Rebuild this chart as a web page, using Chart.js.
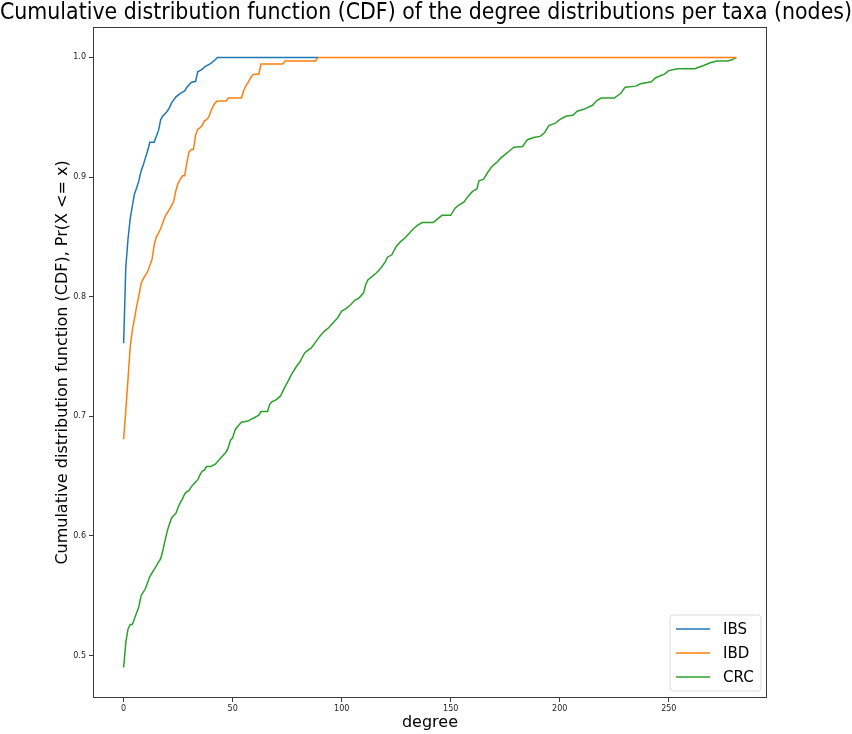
<!DOCTYPE html>
<html>
<head>
<meta charset="utf-8">
<script src="https://cdn.jsdelivr.net/npm/chart.js@4.4.1/dist/chart.umd.min.js"></script>
<style>
  html, body { margin: 0; padding: 0; background: #fff; }
  #wrap { width: 852px; height: 734px; }
</style>
</head>
<body>
<div id="wrap"><canvas id="c" width="852" height="734"></canvas></div>
<script>
const chartTitle = 'Cumulative distribution function (CDF) of the degree distributions per taxa (nodes)';
const xAxisLabel = 'degree';
const yAxisLabel = 'Cumulative distribution function (CDF), Pr(X <= x)';
const seriesNames = ['IBS', 'IBD', 'CRC'];
const xTickValues = [0, 50, 100, 150, 200, 250];
const yTickValues = [0.5, 0.6, 0.7, 0.8, 0.9, 1.0];

const degIBS = [0,1,2,3,4,5,6,7,8,9,10,11,12,14,15,16,17,18,20,21,22,24,26,28,29,31,33,34,36,37,39,40,42,43,89];
const cdfIBS = [0.761,0.825,0.848,0.865,0.876,0.886,0.891,0.897,0.905,0.910,0.916,0.922,0.929,0.929,0.934,0.939,0.948,0.951,0.955,0.958,0.962,0.967,0.970,0.972,0.975,0.979,0.980,0.988,0.990,0.992,0.994,0.995,0.998,1.0,1.0];

const degIBD = [0,1,2,3,4,5,6,7,8,9,10,11,12,13,14,15,16,17,18,19,20,21,22,23,24,25,26,27,28,29,30,31,32,33,34,35,36,37,38,39,40,41,42,43,47,48,54,55,56,57,58,59,60,62,63,73,74,88,89,281];
const cdfIBD = [0.681,0.705,0.731,0.758,0.772,0.782,0.792,0.801,0.811,0.815,0.818,0.821,0.826,0.831,0.843,0.850,0.853,0.857,0.862,0.867,0.870,0.873,0.876,0.880,0.889,0.895,0.898,0.901,0.901,0.912,0.921,0.923,0.923,0.935,0.940,0.941,0.943,0.947,0.948,0.950,0.955,0.959,0.962,0.9635,0.9635,0.966,0.966,0.972,0.976,0.979,0.982,0.985,0.986,0.986,0.9945,0.9945,0.997,0.997,1.0,1.0];

const degCRC = [0,1,2,3,4,5,6,7,8,9,10,11,12,13,14,15,16,17,18,19,20,21,22,23,24,25,26,27,28,29,30,31,32,33,34,35,36,37,38,40,42,44,46,47,48,49,50,51,52,53,54,57,58,60,61,62,63,66,67,68,70,72,73,75,77,79,81,83,85,86,88,90,92,94,96,98,100,102,104,106,108,110,111,112,114,116,118,120,121,123,125,127,129,131,133,135,137,142,144,146,150,152,154,156,158,160,162,163,165,167,169,171,173,175,177,179,183,185,188,191,193,195,198,200,203,206,208,211,215,217,219,225,228,230,235,237,242,244,248,250,254,262,264,266,269,272,277,279,281];
const cdfCRC = [0.490,0.511,0.522,0.526,0.526,0.531,0.536,0.541,0.550,0.553,0.556,0.561,0.566,0.569,0.572,0.575,0.578,0.581,0.588,0.596,0.604,0.610,0.615,0.617,0.619,0.624,0.628,0.631,0.635,0.637,0.638,0.641,0.643,0.645,0.647,0.651,0.654,0.655,0.658,0.658,0.660,0.664,0.668,0.670,0.674,0.680,0.682,0.688,0.691,0.693,0.695,0.696,0.697,0.699,0.700,0.701,0.704,0.704,0.710,0.712,0.714,0.717,0.721,0.728,0.735,0.741,0.746,0.753,0.756,0.757,0.762,0.767,0.771,0.774,0.778,0.782,0.788,0.790,0.793,0.797,0.799,0.803,0.810,0.814,0.817,0.820,0.824,0.829,0.833,0.835,0.842,0.846,0.849,0.853,0.857,0.860,0.862,0.862,0.865,0.868,0.868,0.874,0.877,0.879,0.884,0.888,0.890,0.897,0.898,0.904,0.909,0.912,0.916,0.919,0.922,0.925,0.9255,0.931,0.933,0.934,0.937,0.943,0.945,0.948,0.951,0.9516,0.955,0.9566,0.960,0.964,0.966,0.966,0.970,0.975,0.976,0.978,0.9796,0.983,0.986,0.989,0.9906,0.9906,0.992,0.9933,0.9955,0.997,0.997,0.998,1.0];

const colors = ['#1f77b4', '#ff7f0e', '#2ca02c'];
const FONT = "'DejaVu Sans', sans-serif";

function pts(xs, ys) { return xs.map((x, i) => ({ x: x, y: ys[i] })); }

const datasets = [[degIBS, cdfIBS], [degIBD, cdfIBD], [degCRC, cdfCRC]].map((d, i) => ({
  label: seriesNames[i],
  data: pts(d[0], d[1]),
  borderColor: colors[i],
  backgroundColor: colors[i],
  borderWidth: 1.5,
  pointRadius: 0,
  tension: 0,
  fill: false
}));

const framePlugin = {
  id: 'frameLegend',
  afterDraw(chart) {
    const ctx = chart.ctx;
    const a = chart.chartArea;
    ctx.save();
    ctx.strokeStyle = '#3a3a3a';
    ctx.lineWidth = 1;
    ctx.strokeRect(Math.round(a.left) + 0.5, Math.round(a.top) + 0.5, Math.round(a.right - a.left) - 1, Math.round(a.bottom - a.top) - 1);
    // legend box in lower right
    const bw = 91, bh = 76;
    const bx = a.right - 6 - bw, by = a.bottom - 7 - bh;
    const r = 3;
    ctx.beginPath();
    ctx.moveTo(bx + r, by);
    ctx.lineTo(bx + bw - r, by);
    ctx.arcTo(bx + bw, by, bx + bw, by + r, r);
    ctx.lineTo(bx + bw, by + bh - r);
    ctx.arcTo(bx + bw, by + bh, bx + bw - r, by + bh, r);
    ctx.lineTo(bx + r, by + bh);
    ctx.arcTo(bx, by + bh, bx, by + bh - r, r);
    ctx.lineTo(bx, by + r);
    ctx.arcTo(bx, by, bx + r, by, r);
    ctx.closePath();
    ctx.fillStyle = 'rgba(255,255,255,0.8)';
    ctx.fill();
    ctx.strokeStyle = '#d9d9d9';
    ctx.stroke();
    ctx.font = '15px ' + FONT;
    ctx.textBaseline = 'middle';
    ctx.textAlign = 'left';
    chart.data.datasets.forEach((ds, i) => {
      const yy = by + 14 + i * 24;
      ctx.strokeStyle = ds.borderColor;
      ctx.lineWidth = 1.5;
      ctx.beginPath();
      ctx.moveTo(bx + 6, yy);
      ctx.lineTo(bx + 40, yy);
      ctx.stroke();
      ctx.fillStyle = '#000';
      ctx.fillText(ds.label, bx + 53, yy + 1);
    });
    ctx.restore();
  }
};

new Chart(document.getElementById('c'), {
  type: 'line',
  data: { datasets: datasets },
  plugins: [framePlugin],
  options: {
    responsive: false,
    animation: false,
    devicePixelRatio: 1,
    layout: { padding: { left: 0, right: 0, top: 0, bottom: 0 } },
    plugins: {
      legend: { display: false },
      tooltip: { enabled: false },
      title: {
        display: true,
        text: chartTitle,
        color: '#000',
        font: { family: FONT, size: 23, weight: 'normal', lineHeight: 1.17 },
        padding: { top: 0, bottom: 0 }
      }
    },
    scales: {
      x: {
        type: 'linear',
        min: -14.05,
        max: 295.05,
        afterBuildTicks(scale) { scale.ticks = xTickValues.map(v => ({ value: v })); },
        afterFit(scale) { scale.height = 36; },
        grid: { display: true, drawOnChartArea: false, drawTicks: true, tickLength: 4, color: '#3a3a3a', tickWidth: 1 },
        border: { display: false },
        ticks: {
          color: '#222',
          padding: 2,
          maxRotation: 0,
          autoSkip: false,
          font: { family: FONT, size: 8 },
          callback: v => String(v)
        },
        title: {
          display: true,
          text: xAxisLabel,
          color: '#000',
          font: { family: FONT, size: 16, lineHeight: 1.2 },
          padding: { top: 0, bottom: 2 }
        }
      },
      y: {
        type: 'linear',
        min: 0.4645,
        max: 1.0255,
        afterBuildTicks(scale) { scale.ticks = yTickValues.map(v => ({ value: v })); },
        afterFit(scale) { scale.width = 93; },
        grid: { display: true, drawOnChartArea: false, drawTicks: true, tickLength: 4, color: '#3a3a3a', tickWidth: 1 },
        border: { display: false },
        ticks: {
          color: '#222',
          padding: 3,
          autoSkip: false,
          font: { family: FONT, size: 8 },
          callback: v => Number(v).toFixed(1)
        },
        title: {
          display: true,
          text: yAxisLabel,
          color: '#000',
          font: { family: FONT, size: 16, lineHeight: 1.2 },
          padding: { top: 53, bottom: 0 }
        }
      },
      yRight: {
        type: 'linear',
        position: 'right',
        min: 0,
        max: 1,
        afterFit(scale) { scale.width = 85; },
        grid: { display: false },
        border: { display: false },
        ticks: { display: false },
        title: { display: false }
      }
    }
  }
});
</script>
</body>
</html>
